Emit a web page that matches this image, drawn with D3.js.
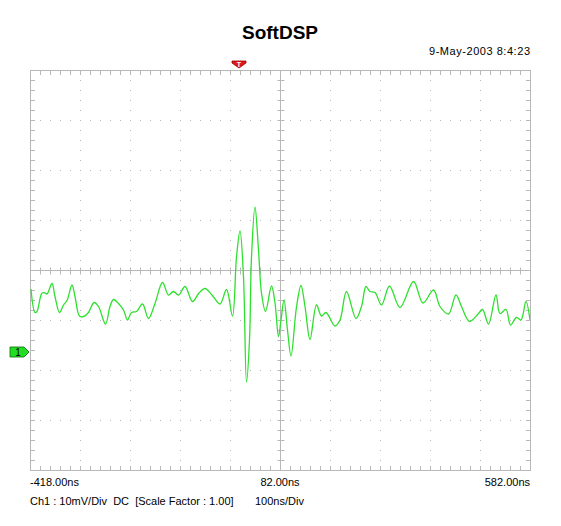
<!DOCTYPE html>
<html>
<head>
<meta charset="utf-8">
<script src="https://cdn.jsdelivr.net/npm/d3@7"></script>
<style>
  body { margin: 0; background: #fff; }
  text { font-family: Arial, "Liberation Sans", sans-serif; }
</style>
</head>
<body>
<div id="scope"></div>
<script>
// channel 1 trace (time in ns, level in mV)
var timeNs = [-416, -408, -404, -394, -388, -384, -374, -368, -359, -351, -344, -334, -328, -319, -311,
  -301, -290, -281, -267, -258, -251, -241, -231, -223, -215, -205, -193, -181, -168, -153, -141,
  -131, -121, -108, -93, -80, -68, -54, -38, -25, -13, -5, 2, 9, 15, 21, 25, 32, 39, 45, 53, 65,
  72, 79, 84, 90, 97, 104, 115, 124, 132, 142, 155, 165, 174, 192, 202, 215, 234, 245, 254, 262,
  272, 285, 301, 322, 349, 368, 389, 402, 419, 434, 445, 461, 479, 487, 499, 514, 522, 534, 543,
  555, 564, 574, 582]
var ch1mV = [12.6, 7.9, 8.1, 11.8, 11.8, 11.6, 13.7, 11.1, 7.9, 9.4, 10.3, 13.4, 11.1, 7.2, 7.1,
  7.9, 9.9, 9.1, 5.6, 9.1, 10.5, 9.7, 8.4, 6.4, 7.9, 8.1, 9.6, 6.7, 9.7, 13.9, 11.4,
  12.1, 11.4, 13.1, 10.1, 11.8, 12.7, 11.4, 9.6, 12.5, 7.2, 19.0, 24.2, 15.0, -6.0, 2.4, 19.0, 29.0, 20.4, 11.8, 8.1, 13.2,
  9.8, 3.1, 6.4, 10.4, 4.4, -0.8, 9.0, 13.3, 9.1, 2.5, 9.4, 7.2, 7.9, 5.2, 6.4, 12.1, 6.7, 9.1, 13.1, 12.1,
  11.9, 9.4, 13.2, 8.9, 14.1, 9.8, 12.4, 9.1, 7.6, 11.4, 9.1, 6.1, 7.7, 8.5, 5.6, 11.4, 7.7, 8.5, 5.4,
  6.9, 6.4, 10.1, 6.4]

var timeTickLabels = ["-418.00ns", "82.00ns", "582.00ns"]
var timeTicks = [-418, 82, 582]
var title = "SoftDSP"
var stamp = "9-May-2003 8:4:23"
var footer = "Ch1 : 10mV/Div  DC  [Scale Factor : 1.00]"
var timebase = "100ns/Div"

var width = 561,
    height = 526
var plotLeft = 30, plotRight = 530, plotTop = 70, plotBottom = 470

var svg = d3.select("#scope").append("svg")
  .attr("width", width)
  .attr("height", height)

svg.append("rect").attr("width", width).attr("height", height).attr("fill", "#fff")

// 100ns/div over 10 divs, 10mV/div over 8 divs, ground 1.64 div below centre
var x = d3.scaleLinear().domain([-418, 582]).range([plotLeft, plotRight])
var y = d3.scaleLinear().domain([-23.6, 56.4]).range([plotBottom, plotTop])

var gridColor = "#b8b8b8"
var grid = svg.append("g")

var xMajor = d3.range(0, 11).map(function(i) { return -418 + i * 100 })
var yMajor = d3.range(0, 9).map(function(i) { return -23.6 + i * 10 })
var xMinor = d3.range(0, 51).map(function(i) { return -418 + i * 20 })
var yMinor = d3.range(0, 41).map(function(i) { return -23.6 + i * 2 })

// dotted divisions
grid.selectAll(".vdot")
  .data(xMajor.filter(function(d, i) { return i > 0 && i < 10 && i != 5 }))
  .enter().append("line")
    .attr("x1", function(d) { return x(d) + 0.5 })
    .attr("x2", function(d) { return x(d) + 0.5 })
    .attr("y1", plotTop).attr("y2", plotBottom)
    .attr("stroke", gridColor)
    .attr("stroke-dasharray", "1,9")
grid.selectAll(".hdot")
  .data(yMajor.filter(function(d, i) { return i > 0 && i < 8 && i != 4 }))
  .enter().append("line")
    .attr("y1", function(d) { return Math.round(y(d)) + 0.5 })
    .attr("y2", function(d) { return Math.round(y(d)) + 0.5 })
    .attr("x1", plotLeft).attr("x2", plotRight)
    .attr("stroke", gridColor)
    .attr("stroke-dasharray", "1,9")

// frame and centre cross
grid.append("rect")
  .attr("x", plotLeft + 0.5).attr("y", plotTop + 0.5)
  .attr("width", plotRight - plotLeft).attr("height", plotBottom - plotTop)
  .attr("fill", "none").attr("stroke", gridColor)
var cy = Math.round(y(16.4)) + 0.5, cx = x(82) + 0.5
grid.append("line")
  .attr("x1", cx).attr("x2", cx).attr("y1", plotTop).attr("y2", plotBottom)
  .attr("stroke", gridColor)
grid.append("line")
  .attr("x1", plotLeft).attr("x2", plotRight).attr("y1", cy).attr("y2", cy)
  .attr("stroke", gridColor)

// minor ticks on the frame and on the centre lines
xMinor.forEach(function(t) {
  var px = x(t) + 0.5
  grid.append("line").attr("x1", px).attr("x2", px).attr("y1", plotTop).attr("y2", plotTop + 5).attr("stroke", gridColor)
  grid.append("line").attr("x1", px).attr("x2", px).attr("y1", plotBottom - 4).attr("y2", plotBottom).attr("stroke", gridColor)
  grid.append("line").attr("x1", px).attr("x2", px).attr("y1", cy - 3).attr("y2", cy + 4).attr("stroke", gridColor)
})
yMinor.forEach(function(v) {
  var py = Math.round(y(v)) + 0.5
  grid.append("line").attr("y1", py).attr("y2", py).attr("x1", plotLeft).attr("x2", plotLeft + 5).attr("stroke", gridColor)
  grid.append("line").attr("y1", py).attr("y2", py).attr("x1", plotRight - 4).attr("x2", plotRight).attr("stroke", gridColor)
  grid.append("line").attr("y1", py).attr("y2", py).attr("x1", cx - 3).attr("x2", cx + 4).attr("stroke", gridColor)
})

// trace
svg.append("clipPath").attr("id", "plotclip")
  .append("rect").attr("x", plotLeft).attr("y", plotTop).attr("width", plotRight - plotLeft).attr("height", plotBottom - plotTop)

var line = d3.line()
  .x(function(d, i) { return x(timeNs[i]) })
  .y(function(d) { return y(d) })
  .curve(d3.curveCatmullRom.alpha(0.5))

svg.append("path")
  .datum(ch1mV)
  .attr("clip-path", "url(#plotclip)")
  .attr("d", line)
  .attr("fill", "none")
  .attr("stroke", "#2ee02e")
  .attr("stroke-width", 1.3)

// trigger marker at t = 0
var tx = x(0)
svg.append("path")
  .attr("d", "M" + (tx - 7) + ",61 L" + (tx + 7) + ",61 L" + (tx + 7) + ",63 L" + tx + ",68 L" + (tx - 7) + ",63 Z")
  .attr("fill", "#e01818")
  .attr("stroke", "#a00000")
  .attr("stroke-width", 0.8)
svg.append("text")
  .attr("x", tx).attr("y", 66.5)
  .attr("text-anchor", "middle")
  .attr("font-size", 7).attr("font-weight", "bold")
  .attr("fill", "#fff")
  .text("T")

// channel 1 ground marker
var gy = y(0)
svg.append("path")
  .attr("d", "M10," + (gy - 5) + " L24," + (gy - 5) + " L29," + gy + " L24," + (gy + 5) + " L10," + (gy + 5) + " Z")
  .attr("fill", "#22dd22")
  .attr("stroke", "#0a6a0a")
  .attr("stroke-width", 0.8)
svg.append("text")
  .attr("x", 18).attr("y", gy + 4)
  .attr("text-anchor", "middle")
  .attr("font-size", 10)
  .attr("fill", "#000")
  .text("1")

// texts
svg.append("text")
  .attr("x", 280).attr("y", 39)
  .attr("text-anchor", "middle")
  .attr("font-size", 19).attr("font-weight", "bold")
  .text(title)
svg.append("text")
  .attr("x", plotRight).attr("y", 55)
  .attr("text-anchor", "end")
  .attr("font-size", 11)
  .attr("textLength", 101)
  .text(stamp)

svg.selectAll(".tlabel")
  .data(timeTicks)
  .enter().append("text")
    .attr("x", function(d) { return x(d) })
    .attr("y", 486)
    .attr("text-anchor", function(d, i) { return i == 0 ? "start" : (i == 2 ? "end" : "middle") })
    .attr("font-size", 11)
    .text(function(d, i) { return timeTickLabels[i] })

svg.append("text")
  .attr("x", 30).attr("y", 505)
  .attr("font-size", 11)
  .attr("xml:space", "preserve")
  .style("white-space", "pre")
  .text(footer)
svg.append("text")
  .attr("x", 255).attr("y", 505)
  .attr("font-size", 11)
  .text(timebase)
</script>
</body>
</html>
